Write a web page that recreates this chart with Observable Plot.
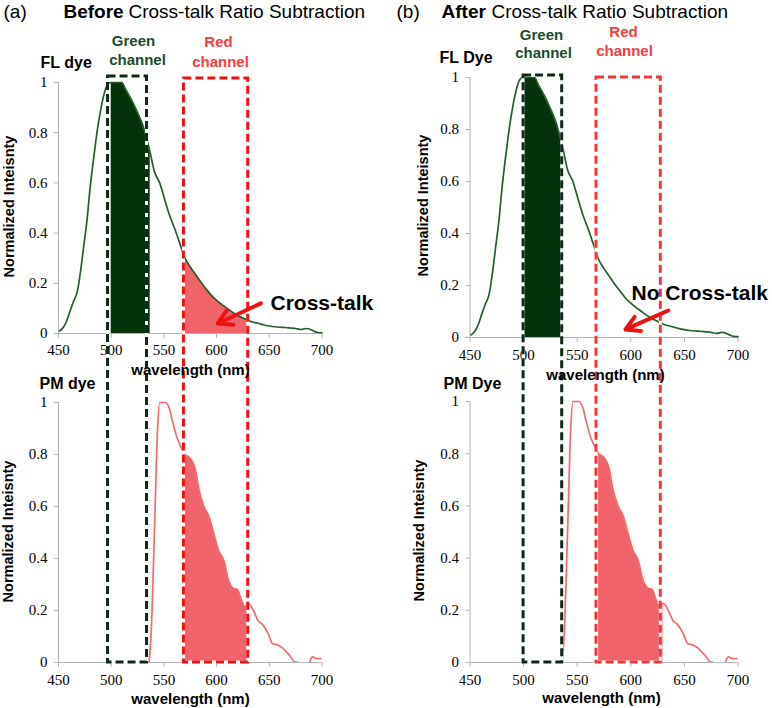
<!DOCTYPE html>
<html>
<head>
<meta charset="utf-8">
<script src="https://cdn.jsdelivr.net/npm/d3@7"></script>
<script src="https://cdn.jsdelivr.net/npm/@observablehq/plot@0.6"></script>
<style>
  html, body { margin: 0; padding: 0; background: #fff; }
  #wrap { position: relative; width: 772px; height: 708px; background: #fff; overflow: hidden; }
  #wrap > svg { position: absolute; top: 0; }
</style>
</head>
<body>
<div id="wrap"></div>
<script>
// ---------- data ----------
const wavelengthTicks = [450, 500, 550, 600, 650, 700];
const intensityTicks = [0, 0.2, 0.4, 0.6, 0.8, 1];
const intensityLabels = ["0", "0.2", "0.4", "0.6", "0.8", "1"];

// FL dye emission spectrum (normalized)
const flWavelength = [451,455,458,461,464,468,471,474,477,480,484,487,490,493,497,500,505,510,514,520,525,530,535,537,541,546,551,555,560,565,570,575,580,585,590,595,600,605,610,615,620,625,630,635,640,645,650,655,660,665,670,675,680,685,688,692,696,700];
const flIntensity  = [0.01,0.027,0.053,0.09,0.125,0.17,0.25,0.35,0.45,0.58,0.72,0.815,0.89,0.95,0.995,1.0,1.0,1.0,0.97,0.925,0.88,0.83,0.755,0.72,0.645,0.60,0.53,0.475,0.42,0.36,0.30,0.265,0.235,0.205,0.178,0.152,0.132,0.115,0.10,0.085,0.072,0.062,0.052,0.045,0.04,0.034,0.03,0.027,0.025,0.024,0.022,0.02,0.016,0.02,0.018,0.01,0.004,0.003];

// PM dye emission spectrum (normalized)
const pmWavelength = [536,538,541,544,546,551,555,558,562,566,570,575,580,583,588,593,597,602,607,611,616,620,623,627,630,635,639,644,649,653,658,663,669,674,677,680,684,688,691,695,700];
const pmIntensity  = [0,0.12,0.5,0.9,1.0,1.0,0.98,0.93,0.87,0.83,0.80,0.785,0.74,0.67,0.60,0.56,0.50,0.43,0.39,0.32,0.285,0.28,0.246,0.214,0.227,0.20,0.163,0.144,0.11,0.073,0.067,0.054,0.028,0.003,0,-0.01,-0.02,0.0,0.022,0.015,0.015];

// channel bands (nm)
const greenBand = [500, 537];
const redBand = [570, 630];
const greenBoxA = [497, 534], redBoxA = [569, 630];
const greenBoxB = [500, 536], redBoxB = [568, 628];
const boxTopsA = [1.024, 1.016];   // box top heights (in top-panel intensity units)
const boxTopsB = [1.008, 1.0];
const arrowA = [642, 0.12, 601, 0.04];
const arrowB = [635, 0.104, 595, 0.031];

// ---------- drawing ----------
const TOP = 2; // top panel intensities are shifted by this offset on the shared y scale
const SANS = "'Liberation Sans', Arial, sans-serif";
const SERIF = "'Liberation Serif', 'Times New Roman', serif";
const GREEN_LINE = "#23602a", GREEN_FILL = "#04330b", GREEN_BOX = "#0e2a16", GREEN_TXT = "#1b4d2b";
const RED_FILL = "#f0636b", RED_LINE = "#f26a6a", RED_TXT = "#f04040", ARROW = "#ee1111";
const AXIS = "#b4b4b4";

function column(cfg) {
  const W = 386, H = 708;
  const pxX = (cfg.xRange[1] - cfg.xRange[0]) / 250;
  const gapPx = (cfg.yRange[1] - cfg.yRange[2]) / (TOP - 1);
  const botPx = (cfg.yRange[0] - cfg.yRange[1]);

  const fl = flWavelength.map((x, i) => ({x, y: flIntensity[i] + TOP}));
  const pm = pmWavelength.map((x, i) => ({x, y: pmIntensity[i]}));
  const yt = intensityTicks.map((v, i) => ({y: v, label: intensityLabels[i]}))
    .concat(intensityTicks.map((v, i) => ({y: v + TOP, label: intensityLabels[i]})));
  const boxes = [
    {x1: cfg.greenBox[0], x2: cfg.greenBox[1], y1: 0, y2: TOP + cfg.boxTops[0], c: GREEN_BOX},
    {x1: cfg.redBox[0], x2: cfg.redBox[1], y1: 0, y2: TOP + cfg.boxTops[1], c: cfg.redBoxColor}
  ];
  const arrows = [{x1: cfg.arrow[0], y1: cfg.arrow[1] + TOP, x2: cfg.arrow[2], y2: cfg.arrow[3] + TOP}];

  const ML = cfg.xRange[0];
  const T = (text, px, py, o = {}) => Plot.text([text], {
    frameAnchor: "top-left", dx: px - ML, dy: py, text: d => d,
    fontFamily: SANS, fontSize: 15, fontWeight: "bold", fill: "black",
    textAnchor: "start", lineAnchor: "middle", ...o
  });

  const marks = [
    // axis lines
    Plot.ruleX([450], {x: d => d, y1: 0, y2: 1, stroke: AXIS}),
    Plot.ruleX([450], {x: d => d, y1: TOP, y2: TOP + 1, stroke: AXIS}),
    Plot.ruleY([0, TOP], {y: d => d, x1: 450, x2: 700, stroke: AXIS}),
    // y tick marks + labels
    Plot.ruleY(yt, {y: "y", x1: 450 - 4 / pxX, x2: 450, stroke: AXIS}),
    Plot.text(yt, {x: 450, y: "y", text: "label", textAnchor: "end", dx: -11, fontFamily: SERIF, fontSize: 15, fill: "black"}),
    // x tick marks + labels
    Plot.ruleX(wavelengthTicks, {x: d => d, y1: 0, y2: -5 / botPx, stroke: AXIS}),
    Plot.ruleX(wavelengthTicks, {x: d => d, y1: TOP, y2: TOP - 5 / gapPx, stroke: AXIS}),
    Plot.text(wavelengthTicks, {x: d => d, y: 0, dy: 18, text: d => String(d), fontFamily: SERIF, fontSize: 15, fill: "black"}),
    Plot.text(wavelengthTicks, {x: d => d, y: TOP, dy: cfg.topTickDy, text: d => String(d), fontFamily: SERIF, fontSize: 15, fill: "black"}),
    // filled channel regions
    Plot.areaY(fl, {filter: d => d.x >= greenBand[0] && d.x <= greenBand[1], x: "x", y1: TOP, y2: "y", fill: GREEN_FILL, curve: "monotone-x"}),
    cfg.redFillTop ? Plot.areaY(fl, {filter: d => d.x >= redBand[0] && d.x <= redBand[1], x: "x", y1: TOP, y2: "y", fill: RED_FILL, curve: "monotone-x"}) : null,
    Plot.areaY(pm, {filter: d => d.x >= redBand[0] && d.x <= redBand[1], x: "x", y1: 0, y2: "y", fill: RED_FILL, curve: "monotone-x"}),
    // spectra
    Plot.line(fl, {x: "x", y: "y", stroke: GREEN_LINE, strokeWidth: 1.7, curve: "monotone-x"}),
    Plot.line(pm, {x: "x", y: "y", stroke: RED_LINE, strokeWidth: 1.7, curve: "monotone-x", clip: true}),
    // dashed channel boxes
    Plot.rect(boxes, {x1: "x1", x2: "x2", y1: "y1", y2: "y2", fill: "none", stroke: "white", strokeWidth: 3}),
    Plot.rect(boxes, {x1: "x1", x2: "x2", y1: "y1", y2: "y2", fill: "none", stroke: "c", strokeWidth: 3, strokeDasharray: "8,4"}),
    // arrow
    Plot.arrow(arrows, {x1: "x1", y1: "y1", x2: "x2", y2: "y2", stroke: ARROW, strokeWidth: 4, headLength: 12}),
  ];

  const tx = cfg.text;
  marks.push(
    T(tx.tag, tx.tagPos[0], tx.tagPos[1], {fontWeight: "normal", fontSize: 19}),
    T(tx.lead, tx.leadPos[0], tx.leadPos[1], {fontSize: 19}),
    T("Cross-talk Ratio Subtraction", tx.restPos[0], tx.restPos[1], {fontWeight: "normal", fontSize: 19}),
    T("Green", tx.green[0], tx.green[1], {textAnchor: "middle", fill: GREEN_TXT}),
    T("channel", tx.green[2], tx.green[3], {textAnchor: "middle", fill: GREEN_TXT}),
    T("Red", tx.red[0], tx.red[1], {textAnchor: "middle", fill: RED_TXT}),
    T("channel", tx.red[2], tx.red[3], {textAnchor: "middle", fill: RED_TXT}),
    T(tx.fl, tx.flPos[0], tx.flPos[1], {fontSize: 16}),
    T(tx.pm, tx.pmPos[0], tx.pmPos[1], {fontSize: 16}),
    T("Normalized Inteisnty", tx.yTitleTop[0], tx.yTitleTop[1], {rotate: -90, textAnchor: "middle", fontSize: 14.5}),
    T("Normalized Inteisnty", tx.yTitleBot[0], tx.yTitleBot[1], {rotate: -90, textAnchor: "middle", fontSize: 14.5}),
    T("wavelength (nm)", tx.xTitleTop[0], tx.xTitleTop[1], {textAnchor: "middle"}),
    T("wavelength (nm)", tx.xTitleBot[0], tx.xTitleBot[1], {textAnchor: "middle"}),
    T(tx.cross, tx.crossPos[0], tx.crossPos[1], {fontSize: 21})
  );

  const svg = Plot.plot({
    width: W, height: H,
    marginLeft: cfg.xRange[0], marginRight: W - cfg.xRange[1],
    marginTop: 0, marginBottom: H - cfg.yRange[0],
    x: {type: "linear", domain: [450, 700], range: cfg.xRange, axis: null},
    y: {type: "linear", domain: [0, 1, TOP, TOP + 1], range: cfg.yRange, axis: null},
    style: {background: "transparent", overflow: "visible"},
    marks: marks.filter(Boolean)
  });
  svg.style.left = cfg.left + "px";
  return svg;
}

const wrap = document.getElementById("wrap");
wrap.appendChild(column({
  left: 0,
  xRange: [58, 321.5],
  yRange: [662, 402, 333, 82],
  topTickDy: 17,
  greenBox: greenBoxA, redBox: redBoxA, boxTops: boxTopsA, redBoxColor: "#ee1111",
  redFillTop: true,
  arrow: arrowA,
  text: {
    tag: "(a)", tagPos: [3, 11], lead: "Before", leadPos: [63, 11], restPos: [128, 11],
    green: [133, 41, 137, 60], red: [218, 42, 220, 62],
    fl: "FL dye", flPos: [40, 62], pm: "PM dye", pmPos: [39, 383],
    yTitleTop: [9, 206], yTitleBot: [8, 531],
    xTitleTop: [190, 370], xTitleBot: [190, 699],
    cross: "Cross-talk", crossPos: [270, 303]
  }
}));
wrap.appendChild(column({
  left: 386,
  xRange: [83.5, 351.5],
  yRange: [662, 401, 337, 77],
  topTickDy: 18,
  greenBox: greenBoxB, redBox: redBoxB, boxTops: boxTopsB, redBoxColor: "#ef3838",
  redFillTop: false,
  arrow: arrowB,
  text: {
    tag: "(b)", tagPos: [10, 11], lead: "After", leadPos: [55, 11], restPos: [105, 11],
    green: [155, 35, 157, 53], red: [237, 32, 238, 51],
    fl: "FL Dye", flPos: [53, 57], pm: "PM Dye", pmPos: [57, 383],
    yTitleTop: [37, 205], yTitleBot: [33, 530],
    xTitleTop: [219, 375], xTitleBot: [215, 698],
    cross: "No Cross-talk", crossPos: [245, 293]
  }
}));
</script>
</body>
</html>
